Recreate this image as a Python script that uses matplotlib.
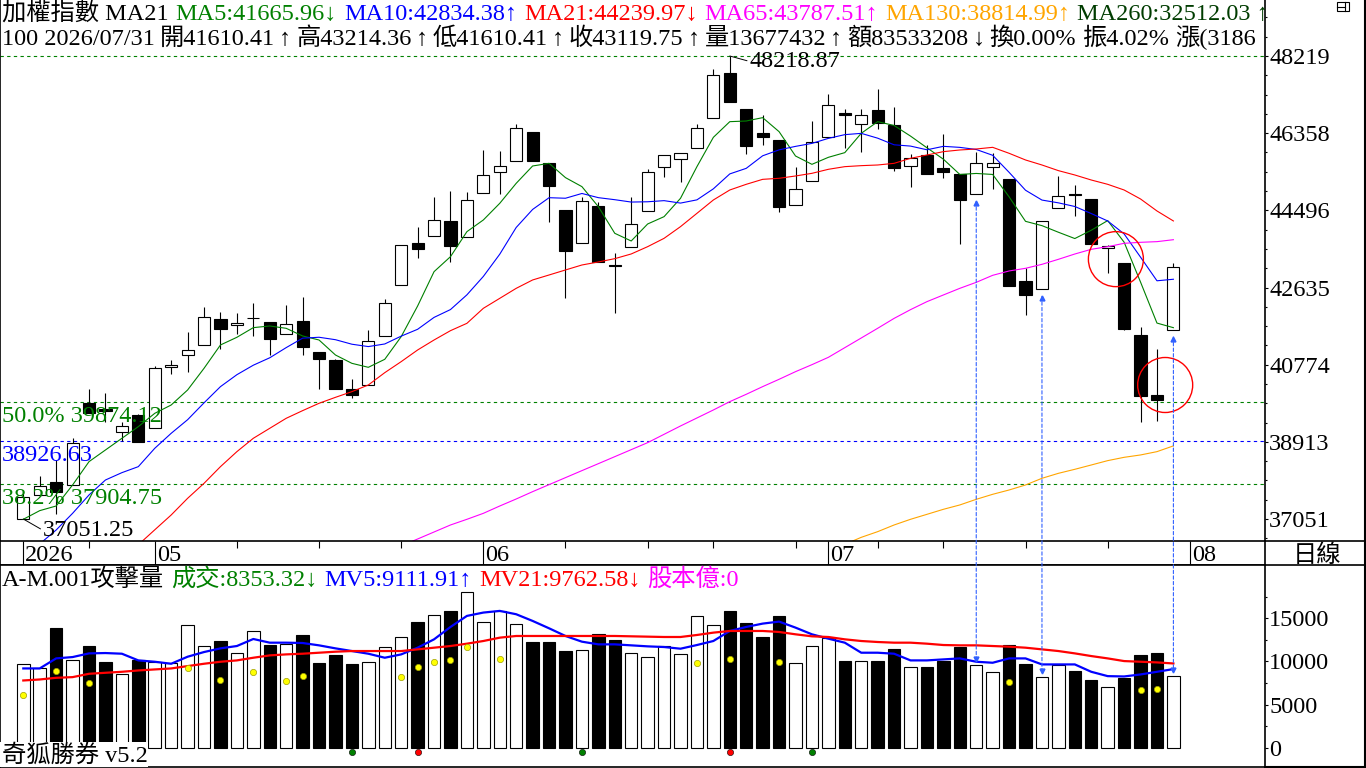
import numpy as np
import matplotlib
matplotlib.use("Agg")
import matplotlib.pyplot as plt
from matplotlib.patches import Rectangle, Ellipse, ConnectionPatch
from matplotlib.lines import Line2D
import matplotlib.transforms as mtrans

plt.rcParams['font.family'] = ['Liberation Serif', 'Noto Sans CJK TC', 'DejaVu Sans']
plt.rcParams['axes.unicode_minus'] = False

# ---- 日K資料 ----
opens = [37051.25, 37630, 37937, 37872, 39857, 39700, 39157, 39560, 39239, 40710,
         41000, 41256, 41868, 41723, 41900, 41796, 41514, 41820, 41072, 40887,
         40180, 40276, 41465, 42688, 43716, 43870, 44239, 43846, 44907, 45414,
         45679, 46386, 45631, 44497, 43701, 44608, 43178, 43605, 44473, 45534,
         45727, 45993, 46716, 47802, 46933, 46362, 46193, 44618, 45197, 46258,
         46844, 46579, 46909, 46555, 45559, 45824, 45518, 45366, 44883, 45534,
         45252, 42792, 42592, 44546, 44890, 44770, 43595, 43226, 41482, 40042,
         41610.41]
highs = [37750, 38089, 38474, 38998, 40180, 40090, 39398, 39584, 40742, 40886,
         41562, 42165, 42037, 42013, 42254, 41800, 42213, 42413, 41080, 40900,
         40428, 41610, 42358, 43660, 44094, 44825, 44963, 44931, 45952, 45928,
         46579, 46390, 45640, 44500, 44825, 44704, 43475, 44825, 45493, 45824,
         45887, 46579, 47898, 48218.87, 46940, 46789, 46200, 45542, 46658, 47310,
         46948, 46948, 47423, 46989, 45848, 46072, 46338, 45370, 45903, 45872,
         45260, 43098, 44232, 45325, 45108, 44775, 43660, 43230, 41690, 41152,
         43214.36]
lows = [37051.25, 37630, 37172, 37872, 39600, 39400, 38940, 38916, 39239, 40549,
        40604, 41256, 41144, 41521, 41465, 41014, 41514, 41014, 40180, 40180,
        39963, 40276, 41465, 42688, 43354, 43870, 43258, 43846, 44907, 44898,
        45679, 45694, 44222, 42389, 43701, 43243, 42013, 43605, 44473, 45293,
        45187, 45993, 46716, 47117, 45848, 46080, 44456, 44618, 45197, 46258,
        46007, 45911, 46458, 45452, 45052, 45380, 45284, 43677, 44883, 45004,
        42679, 41972, 42592, 44546, 44367, 43677, 42978, 41610, 39384, 39415,
        41610.41]
closes = [37575, 37847, 37710, 38892, 39616, 39650, 39295, 38916, 40686, 40766,
          41128, 41916, 41627, 41772, 41907, 41386, 41747, 41193, 40903, 40180,
          40035, 41352, 42254, 43660, 43556, 44256, 43643, 44738, 45341, 45559,
          46475, 45694, 45091, 43523, 44714, 43243, 43154, 44167, 45414, 45824,
          45887, 46475, 47753, 47117, 46055, 46273, 44584, 45004, 46137, 47030,
          46789, 46789, 46596, 45510, 45751, 45380, 45414, 44753, 45631, 45631,
          42679, 42462, 44232, 44835, 44874, 43677, 43629, 41627, 40025, 39929,
          43119.75]

nan = np.nan
ma5 = [37044, 37253, 37365, 37872, 38435, 38716, 38997, 39279, 39600, 39801,
       40163, 40686, 41249, 41434, 41667, 41707, 41651, 41466, 41369, 41007,
       40806, 40710, 40903, 41450, 42189, 43017, 43379, 43982, 44264, 44666,
       45148, 45566, 45630, 45285, 45068, 44585, 43942, 43757, 44167, 44344,
       44786, 45550, 46257, 46635, 46651, 46732, 46394, 45807, 45606, 45775,
       45888, 46354, 46635, 46543, 46287, 46005, 45730, 45362, 45386, 45362,
       44822, 44231, 44127, 43968, 43816, 44016, 44249, 43728, 42766, 41777,
       41666]
ma10 = [36100, 36450, 36786, 37188, 37631, 37992, 38169, 38314, 38756, 39118,
        39446, 39853, 40244, 40532, 40761, 40940, 41185, 41413, 41435, 41376,
        41267, 41210, 41273, 41462, 41627, 41914, 42103, 42458, 42902, 43439,
        44083, 44518, 44801, 44788, 44903, 44802, 44753, 44696, 44703, 44730,
        44671, 44749, 45015, 45375, 45509, 45812, 45955, 46039, 46111, 46232,
        46322, 46353, 46237, 46077, 46046, 45957, 46040, 46015, 45964, 45824,
        45413, 44981, 44744, 44677, 44589, 44419, 44240, 43928, 43367, 42797,
        42834]
ma21 = [nan] * 7 + [
    36430, 36790, 37148, 37550, 37912, 38314, 38676, 38998, 39239, 39480,
    39665, 39842, 39986, 40123, 40284, 40581, 40847, 41128, 41369, 41594,
    41771, 42133, 42374, 42615, 42817, 42937, 43058, 43178, 43251, 43331,
    43444, 43620, 43821, 44103, 44424, 44746, 44987, 45124, 45244, 45269,
    45325, 45389, 45486, 45550, 45574, 45590, 45630, 45751, 45831, 45912,
    45952, 45976, 46016, 45872, 45711, 45590, 45454, 45349, 45228, 45124,
    44987, 44770, 44481, 44240]
ma65 = [nan] * 23 + [
    36401, 36569, 36738, 36907, 37044, 37188, 37365, 37534, 37711, 37880,
    38049, 38218, 38386, 38555, 38724, 38893, 39094, 39295, 39488, 39681,
    39882, 40059, 40244, 40421, 40605, 40774, 40951, 41184, 41417, 41651,
    41890, 42101, 42294, 42455, 42615, 42760, 42929, 43034, 43098, 43194,
    43315, 43443, 43556, 43620, 43701, 43725, 43741, 43788]
ma130 = [nan] * 50 + [
    36440, 36609, 36746, 36907, 37044, 37164, 37285, 37390, 37526, 37647,
    37751, 37872, 38033, 38153, 38250, 38354, 38459, 38539, 38596, 38676,
    38815]

# ---- 攻擊量 ----
volume = [9653, 9188, 13840, 10200, 11746, 9886, 8570, 10118, 9967, 9770,
          14270, 11828, 12328, 11012, 13572, 11862, 12060, 13026, 9769, 10700,
          9653, 9967, 11711, 12875, 14537, 15430, 15817, 17990, 14614, 15817,
          14386, 12211, 12211, 11165, 11360, 13142, 12444, 11012, 10467, 11785,
          10895, 15317, 14270, 15817, 14421, 12828, 15270, 9850, 11828, 12750,
          10000, 10000, 10040, 11480, 9385, 9304, 10040, 11630, 9618, 8800,
          11944, 9653, 8222, 9618, 8839, 7792, 7060, 8025, 10700, 10932,
          8353]
mv5 = [9187, 9187, 10350, 10505, 10931, 10970, 10893, 10118, 9962, 9730,
       10544, 11087, 11513, 11785, 12599, 12172, 12172, 12133, 11862, 11513,
       11203, 10893, 10427, 10815, 11591, 12560, 13994, 15274, 15661, 15855,
       15467, 14692, 13839, 12948, 12288, 11978, 11978, 11862, 11746, 11668,
       11474, 11900, 12366, 13529, 13994, 14382, 14615, 13917, 13142, 12637,
       12172, 11009, 11009, 10893, 10118, 10118, 10234, 10350, 9962, 9846,
       10350, 10350, 9652, 9652, 9652, 8799, 8295, 8257, 8489, 8799,
       9112]
mv21 = [7791, 7908, 8101, 8179, 8567, 8683, 8799, 8954, 9071, 9187,
        9458, 9730, 9962, 10118, 10427, 10699, 10815, 10893, 11009, 11125,
        11203, 11203, 11203, 11203, 11397, 11591, 11785, 12056, 12366, 12754,
        12948, 12948, 12948, 12948, 12948, 12948, 12948, 12909, 12870, 12831,
        12831, 13064, 13336, 13529, 13529, 13529, 13413, 13142, 12909, 12831,
        12560, 12366, 12250, 12172, 12172, 12056, 11901, 11862, 11862, 11785,
        11707, 11591, 11397, 11203, 10931, 10621, 10350, 10040, 9962, 9885,
        9763]
dot_days = [0, 2, 4, 10, 12, 14, 16, 17, 23, 24, 25, 26, 27, 29, 41, 43, 46, 60, 68, 69]
dot_vals = [6086, 8877, 7481, 9187, 7791, 8760, 7714, 8295, 8179, 9342,
            9924, 10118, 11668, 10234, 9769, 10273, 9924, 7597, 6744, 6860]
sig_green = [20, 34, 48]
sig_red = [24, 43]

fib_levels = [39874.12, 38926.63, 37904.75]
fib_labels = ['50.0% 39874.12', '38926.63', '38.2% 37904.75']
fib_colors = ['#008000', '#0000FF', '#008000']

month_pos = [0, 8, 28, 49, 71]
month_labels = ['2026', '05', '06', '07', '08']
week_pos = [4, 13, 18, 23, 33, 38, 42, 47, 52, 56, 61, 66]

arrow_days = [58, 62, 70]
circle_days = [66, 69]

# ---- 版面 (像素) ----
W, H, DPI = 1366, 768, 100
FS = 17.5
X0, STEP = 23.3, 16.43
RIGHT = 1265
MAIN_BOT, DATE_BOT, VOL_BOT = 541, 565, 767
PX_PRICE = 24.12      # 每像素點數
PX_VOL = 115.9        # 每像素張數
HI_Y = 56             # 最高價所在像素
VOL0_Y = 747.7

GREEN, BLUE, RED, MAG, ORANGE = '#008000', '#0000FF', '#FF0000', '#FF00FF', '#FFA500'

fig = plt.figure(figsize=(W / DPI, H / DPI), dpi=DPI, facecolor='white')


def frect(x0, y0, x1, y1):
    return [x0 / W, 1 - y1 / H, (x1 - x0) / W, (y1 - y0) / H]


ax = fig.add_axes(frect(0, 0, RIGHT, MAIN_BOT))
axd = fig.add_axes(frect(0, MAIN_BOT, RIGHT, DATE_BOT))
axv = fig.add_axes(frect(0, DATE_BOT, RIGHT, VOL_BOT))

xl = (-X0 / STEP, (RIGHT - X0) / STEP)
hi = max(highs)
lo = min(lows)
for a in (ax, axd, axv):
    a.set_xticks([])
    for s in a.spines.values():
        s.set_linewidth(1.2)

price_lim = (hi - (MAIN_BOT - HI_Y) * PX_PRICE, hi + HI_Y * PX_PRICE)
vol_lim = (-(VOL_BOT - VOL0_Y) * PX_VOL, (VOL0_Y - DATE_BOT) * PX_VOL)

x = np.arange(len(closes))
o = np.array(opens)
c = np.array(closes)
up = c >= o

# ---- K線 ----
ax.vlines(x, lows, highs, color='black', lw=0.8, zorder=2)
ax.bar(x, np.abs(c - o), bottom=np.minimum(o, c), width=0.74,
       color=np.where(up, 'white', 'black'), edgecolor='black', linewidth=0.8, zorder=3)

ax.plot(x, ma5, color=GREEN, lw=0.8, zorder=4)
ax.plot(x, ma10, color=BLUE, lw=0.8, zorder=4)
ax.plot(x, ma21, color=RED, lw=0.8, zorder=4)
ax.plot(x, ma65, color=MAG, lw=0.8, zorder=4)
ax.plot(x, ma130, color=ORANGE, lw=0.8, zorder=4)

# 黃金分割線
ax.axhline(hi, color=GREEN, lw=0.8, ls=(0, (3, 3)), zorder=1)
for lv, lab, col in zip(fib_levels, fib_labels, fib_colors):
    ax.axhline(lv, color=col, lw=0.8, ls=(0, (3, 3)), zorder=1)
    ax.annotate(lab, xy=(0, lv), xycoords=mtrans.blended_transform_factory(ax.transAxes, ax.transData),
                xytext=(2, -20), textcoords='offset pixels', color=col, fontsize=FS,
                va='baseline', ha='left', zorder=5)

# 高低點標示
arr = dict(arrowstyle='-', color='black', lw=0.7, shrinkA=0, shrinkB=0, relpos=(0, 0.5))
ax.annotate(f'{lo:.2f}', xy=(0, lo), xytext=(20, -17), textcoords='offset pixels',
            fontsize=FS, va='baseline', ha='left', arrowprops=arr, zorder=5)
i_hi = int(np.argmax(highs))
ax.annotate(f'{hi:.2f}', xy=(i_hi, hi), xytext=(20, -11), textcoords='offset pixels',
            fontsize=FS, va='baseline', ha='left', arrowprops=arr, zorder=5)

# 紅圈
d_px = 55
for i in circle_days:
    ax.add_patch(Ellipse((i + 0.5, (highs[i] + lows[i]) / 2), d_px / STEP, d_px * PX_PRICE,
                         fill=False, edgecolor=RED, lw=1.0, zorder=6))

# 右側價格刻度
ticks = np.linspace(lo, hi, 7)
ax.yaxis.tick_right()
ax.set_yticks(ticks)
ax.set_yticklabels([f'{t:.0f}' for t in ticks])
step = ticks[1] - ticks[0]
minor = np.arange(lo - step, hi + step, step / 4)
ax.set_yticks(minor[(minor > price_lim[0]) & (minor < price_lim[1])], minor=True)
ax.tick_params(axis='y', which='major', length=2.2, width=0.8, pad=0.7, labelsize=FS)
ax.tick_params(axis='y', which='minor', length=1.5, width=0.8)
ax.spines['top'].set_visible(False)
ax.spines['bottom'].set_visible(False)

# ---- 日期列 ----
axd.set_yticks([])
axd.vlines(month_pos, 0, 1, color='black', lw=0.8)
axd.vlines(week_pos, 0.7, 1, color='black', lw=0.8)
for p, lab in zip(month_pos, month_labels):
    axd.text(p + 2 / STEP, 0.15, lab, fontsize=FS, va='baseline', ha='left')

# ---- 攻擊量 ----
axv.bar(x, volume, width=0.76, color=np.where(up, 'white', 'black'),
        edgecolor='black', linewidth=0.8, zorder=2)
axv.plot(x, mv5, color=BLUE, lw=1.6, zorder=3)
axv.plot(x, mv21, color=RED, lw=1.6, zorder=3)
axv.plot(dot_days, dot_vals, 'o', ms=4.5, mfc='#FFFF00', mec='#A0A000', mew=0.5, zorder=4)
sig_y = -4.5 * PX_VOL
axv.plot(sig_green, [sig_y] * len(sig_green), 'o', ms=4.5, mfc=GREEN, mec='black', mew=0.4,
         zorder=4, clip_on=False)
axv.plot(sig_red, [sig_y] * len(sig_red), 'o', ms=4.5, mfc=RED, mec='black', mew=0.4,
         zorder=4, clip_on=False)
axv.yaxis.tick_right()
axv.set_yticks([0, 5000, 10000, 15000])
axv.set_yticks([2500, 7500, 12500, 17500], minor=True)
axv.tick_params(axis='y', which='major', length=2.2, width=0.8, pad=0.7, labelsize=FS)
axv.tick_params(axis='y', which='minor', length=1.5, width=0.8)

# 白底版本字樣
axv.add_patch(Rectangle((0, 0), 148 / RIGHT, (VOL_BOT - 742) / (VOL_BOT - DATE_BOT),
                        transform=axv.transAxes, facecolor='white', edgecolor='none', zorder=5))
axv.text(2 / RIGHT, (VOL_BOT - 762) / (VOL_BOT - DATE_BOT), '奇狐勝券 v5.2', transform=axv.transAxes,
         fontsize=FS, va='baseline', ha='left', zorder=6)

# 設定範圍 (放在刻度之後, 免得被刻度撐開)
for a in (ax, axd, axv):
    a.set_xlim(xl)
ax.set_ylim(price_lim)
axv.set_ylim(vol_lim)
axd.set_ylim(0, 1)

# 藍色虛線箭頭 (K線 -> 量)
ACOL = '#3060FF'
for i in arrow_days:
    top = lows[i] - 7 * PX_PRICE
    bot = volume[i] + 4 * PX_VOL
    con = ConnectionPatch(xyA=(i, top), coordsA=ax.transData, xyB=(i, bot), coordsB=axv.transData,
                          color=ACOL, lw=0.8, linestyle=(0, (3, 2)), zorder=7)
    fig.add_artist(con)
    ax.plot(i, top - 2 * PX_PRICE, marker='^', ms=3.5, color=ACOL, zorder=7, clip_on=False)
    axv.plot(i, bot + 2 * PX_VOL, marker='v', ms=3.5, color=ACOL, zorder=7, clip_on=False)

# ---- 抬頭文字 ----
renderer = fig.canvas.get_renderer()


def write_row(axis, x_px, base_px, parts, gap_px=7, clip=False):
    xc = x_px
    for part in parts:
        s, col = part[0], part[1]
        g = part[2] if len(part) > 2 else gap_px
        t = axis.text(xc / W, 1 - base_px / H, s, color=col, fontsize=FS, transform=fig.transFigure,
                      ha='left', va='baseline', zorder=10)
        if clip:
            t.set_clip_on(True)
            t.set_clip_path(axis.patch)
        xc = t.get_window_extent(renderer).x1 + g


write_row(ax, 2, 20, [('加權指數 MA21', 'black'), ('MA5:41665.96↓', GREEN), ('MA10:42834.38↑', BLUE),
                      ('MA21:44239.97↓', RED), ('MA65:43787.51↑', MAG), ('MA130:38814.99↑', ORANGE),
                      ('MA260:32512.03 ↑', '#003C00')], clip=True)
K = 'black'
write_row(ax, 2, 45, [('100 2026/07/31', K, 5), ('開41610.41', K, 4), ('↑', K, 5),
                      ('高43214.36', K, 4), ('↑', K, 5), ('低41610.41', K, 4), ('↑', K, 5),
                      ('收43119.75', K, 4), ('↑', K, 5), ('量13677432', K, 4), ('↑', K, 5),
                      ('額83533208', K, 4), ('↓', K, 5), ('換0.00%', K, 6), ('振4.02%', K, 6),
                      ('漲(3186', K)], clip=True)
write_row(axv, 2, 586, [('A-M.001攻擊量', 'black'), ('成交:8353.32↓', GREEN), ('MV5:9111.91↑', BLUE),
                        ('MV21:9762.58↓', RED), ('股本億:0', MAG)])

fig.text(1317 / W, 1 - 562 / H, '日線', fontsize=FS, ha='center', va='baseline')

# 外框與右側分隔線
for yy in (MAIN_BOT, DATE_BOT):
    fig.add_artist(Line2D([RIGHT / W, 1], [1 - yy / H] * 2, color='black', lw=1.2, transform=fig.transFigure))
fig.add_artist(Line2D([1364.5 / W] * 2, [0, 1], color='black', lw=1.5, transform=fig.transFigure))
fig.add_artist(Line2D([RIGHT / W, 1], [0.7 / H] * 2, color='black', lw=1.5, transform=fig.transFigure))
# 右上小圖示
fig.add_artist(Rectangle((1337 / W, 1 - 11 / H), 12 / W, 9 / H, fill=False, ec='black', lw=0.8,
                         transform=fig.transFigure))
fig.add_artist(Line2D([1345 / W] * 2, [1 - 2 / H, 1 - 11 / H], color='black', lw=0.8, transform=fig.transFigure))
fig.add_artist(Line2D([1337 / W, 1345 / W], [1 - 6.5 / H] * 2, color='black', lw=0.8, transform=fig.transFigure))

fig.savefig('out.png', dpi=DPI)
